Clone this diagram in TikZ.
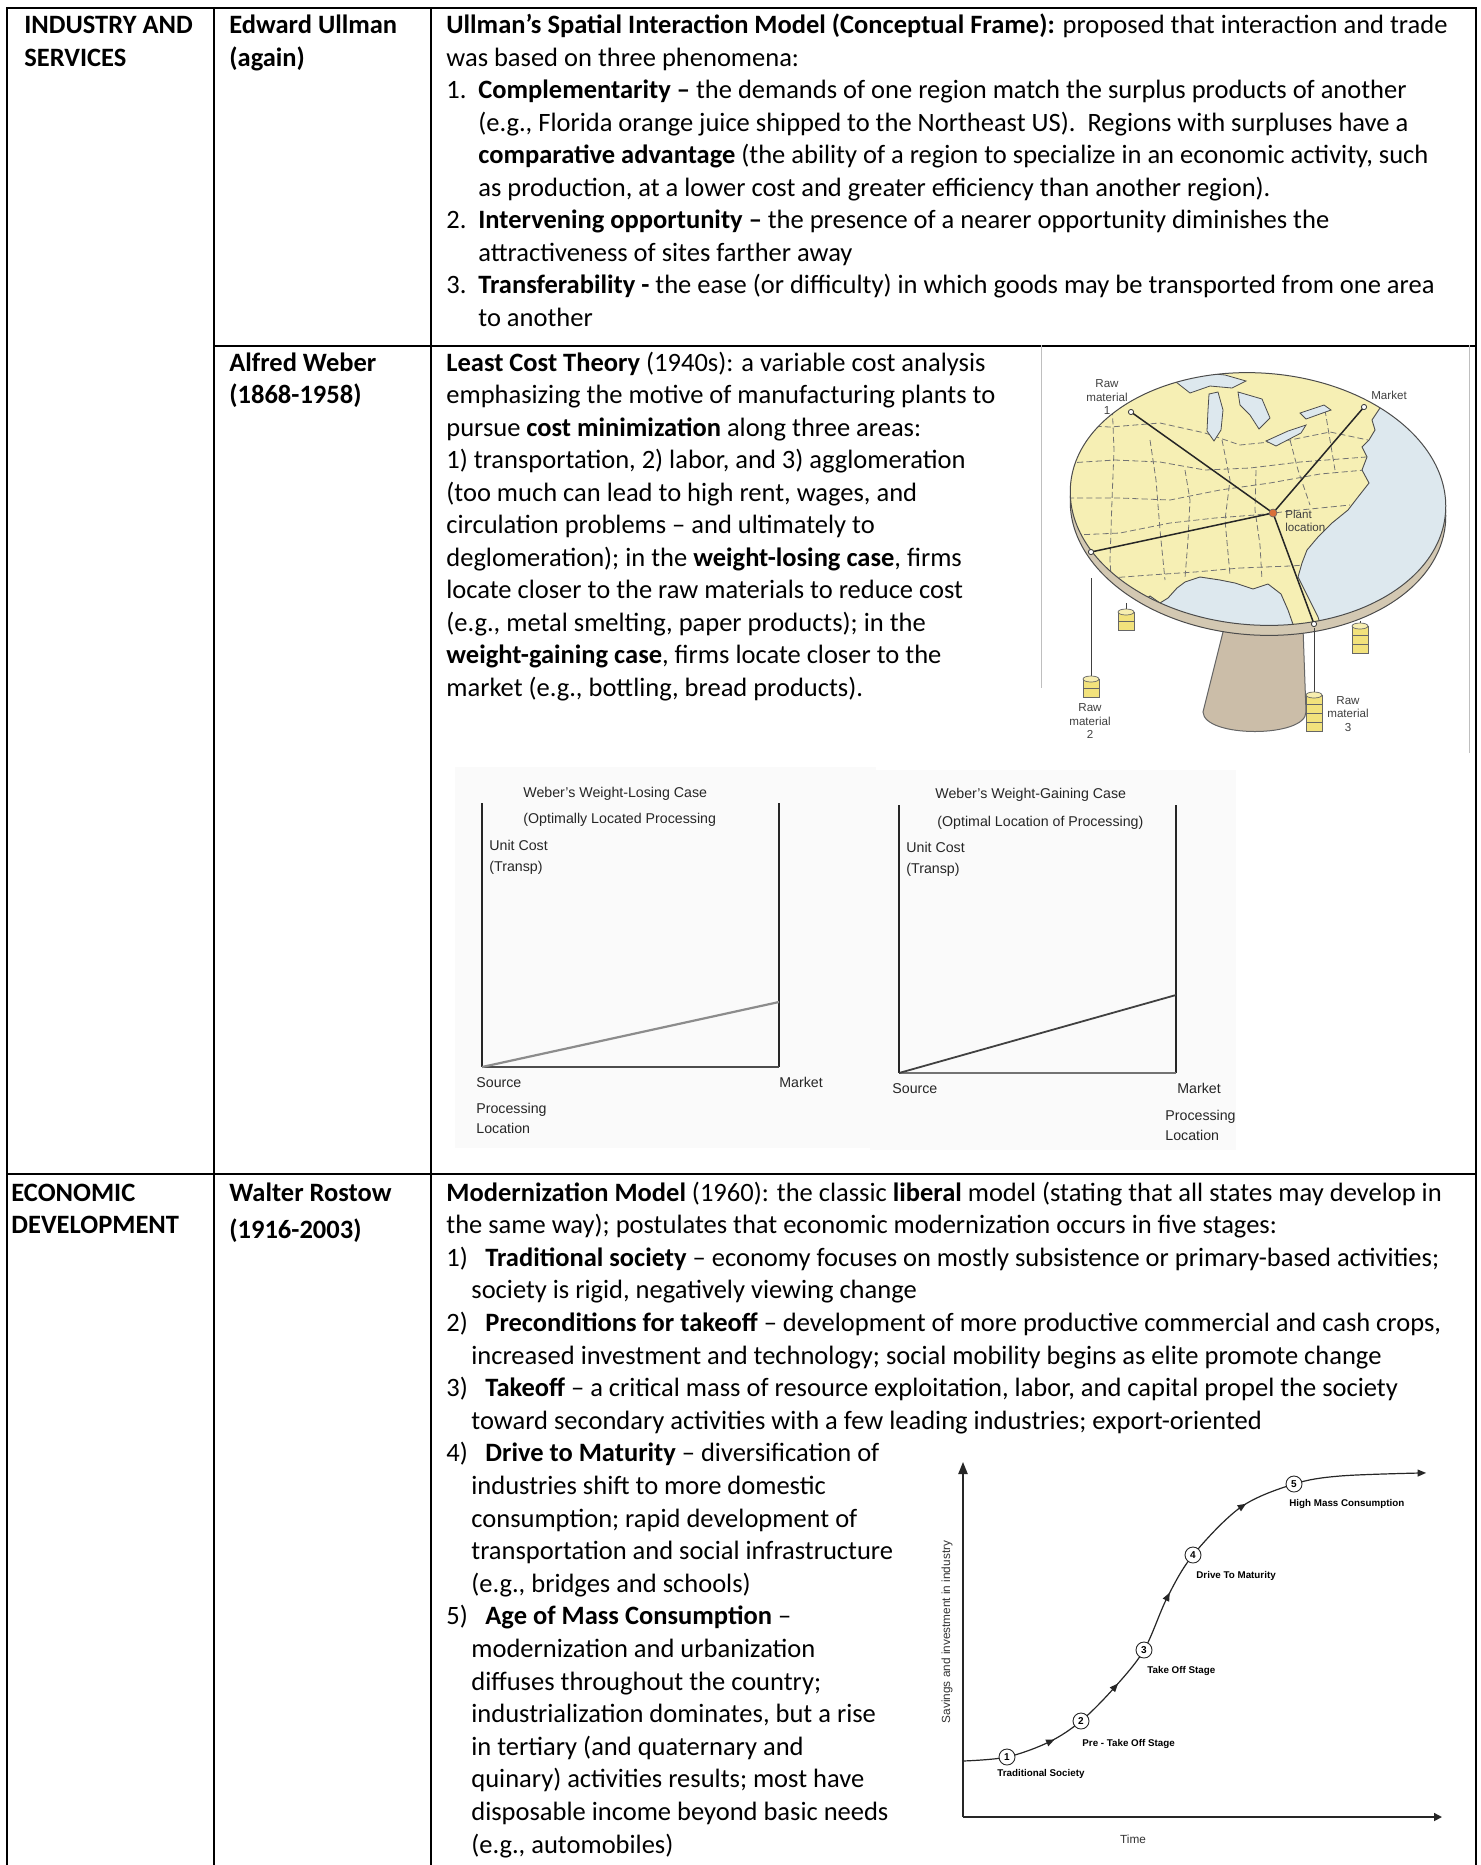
\documentclass[tikz,border=0pt]{standalone}
\usepackage{fontspec}
\setmainfont{Carlito}
\newfontfamily\arialf{Liberation Sans}
\usetikzlibrary{shapes.geometric,arrows.meta}
\definecolor{land}{HTML}{F6EFB4}
\definecolor{sea}{HTML}{DDE8EE}
\definecolor{rimc}{HTML}{D3C8B2}
\definecolor{pedc}{HTML}{CBBDA8}
\definecolor{wtc}{HTML}{F2E27C}
\definecolor{plantc}{HTML}{D9703A}
\newcommand\mainsz{\fontsize{13.25pt}{16.25pt}\selectfont}
\newcommand\Tl[4]{\node[tx] (#1) at (#2,#3) {#4};}
\newcommand\wstack[3]{%
  \foreach \i in {1,...,#3}{\draw[fill=wtc, draw=black!60, line width=0.35pt] ({#1-8},{#2+9*(\i-1)}) rectangle ({#1+8},{#2+9*\i});}
  \draw[fill=wtc!60!white, draw=black!60, line width=0.35pt] (#1,#2) ellipse [x radius=4pt, y radius=1.5pt];}
\begin{document}
\begin{tikzpicture}[x=0.5pt,y=-0.5pt,
  tx/.style={anchor=base west, inner sep=0pt, font=\mainsz},
  grid/.style={line width=1.4pt, line cap=rect},
  gtx/.style={anchor=base west, inner sep=0pt, font=\arialf\fontsize{7.1pt}{8pt}\selectfont, text=black!85},
  rtx/.style={anchor=base west, inner sep=0pt, font=\arialf\bfseries\fontsize{4.9pt}{6pt}\selectfont},
  mtx/.style={inner sep=0pt, font=\arialf\fontsize{5.8pt}{6.6pt}\selectfont, align=center, text=black!75},
  stage/.style={circle, draw=black!85, fill=white, inner sep=0pt, minimum size=8pt, line width=0.45pt, font=\arialf\bfseries\fontsize{5pt}{6pt}\selectfont},
  tri/.style={isosceles triangle, isosceles triangle stretches, fill=black!85, inner sep=0pt, minimum width=3.6pt, minimum height=4.2pt},
  axis/.style={line width=0.8pt, draw=black!85},
  mapline/.style={line width=0.75pt, draw=black!85},
  dot/.style={circle, draw=black!80, fill=white, inner sep=0pt, minimum size=2.6pt, line width=0.4pt},
  statel/.style={dashed, dash pattern=on 3pt off 1.6pt, draw=black!55, line width=0.4pt}]
\useasboundingbox (0,0) rectangle (1481,1865);
\fill[white] (0,0) rectangle (1481,1865);

% ---------------- table grid
\draw[grid] (7,8) -- (1476,8);
\draw[grid] (7,8) -- (7,1865);
\draw[grid] (214,8) -- (214,1865);
\draw[grid] (431,8) -- (431,1865);
\draw[grid] (1476,8) -- (1476,1865);
\draw[grid] (214,346) -- (1476,346);
\draw[grid] (7,1174) -- (1476,1174);

% ---------------- column 1 and 2
\node[tx] (c1a) at (24,33.5) {\textbf{INDUSTRY AND}};
\node[tx] (c1b) at (24,66) {\textbf{SERVICES}};
\node[tx] (c2a) at (229,33.5) {\textbf{Edward Ullman}};
\node[tx] (c2b) at (229,66) {\textbf{(again)}};
\node[tx] (c2c) at (229,371) {\textbf{Alfred Weber}};
\node[tx] (c2d) at (229,403.5) {\textbf{(1868-1958)}};
\node[tx] (c1c) at (11,1201) {\textbf{ECONOMIC}};
\node[tx] (c1d) at (11,1233.6) {\textbf{DEVELOPMENT}};
\node[tx] (c2e) at (229,1201) {\textbf{Walter Rostow}};
\node[tx] (c2f) at (229,1238) {\textbf{(1916-2003)}};

% ---------------- Ullman
\Tl{u1}{446}{33.5}{\textbf{Ullman’s Spatial Interaction Model (Conceptual Frame):} proposed that interaction and trade}
\Tl{u2}{446}{66}{was based on three phenomena:}
\Tl{u3n}{446}{98.5}{1.}
\Tl{u3}{478}{98.5}{\textbf{Complementarity –} the demands of one region match the surplus products of another}
\Tl{u4}{478}{131}{(e.g., Florida orange juice shipped to the Northeast US).\ \ Regions with surpluses have a}
\Tl{u5}{478}{163.5}{\textbf{comparative advantage} (the ability of a region to specialize in an economic activity, such}
\Tl{u6}{478}{196}{as production, at a lower cost and greater efficiency than another region).}
\Tl{u7n}{446}{228.5}{2.}
\Tl{u7}{478}{228.5}{\textbf{Intervening opportunity –} the presence of a nearer opportunity diminishes the}
\Tl{u8}{478}{261}{attractiveness of sites farther away}
\Tl{u9n}{446}{293.5}{3.}
\Tl{u9}{478}{293.5}{\textbf{Transferability -} the ease (or difficulty) in which goods may be transported from one area}
\Tl{u10}{478}{326}{to another}

% ---------------- Weber text
\Tl{w1}{446}{371}{\textbf{Least Cost Theory} (1940s): a variable cost analysis}
\Tl{w2}{446}{403.5}{emphasizing the motive of manufacturing plants to}
\Tl{w3}{446}{436}{pursue \textbf{cost minimization} along three areas:}
\Tl{w4}{446}{468.5}{1) transportation, 2) labor, and 3) agglomeration}
\Tl{w5}{446}{501}{(too much can lead to high rent, wages, and}
\Tl{w6}{446}{533.5}{circulation problems – and ultimately to}
\Tl{w7}{446}{566}{deglomeration); in the \textbf{weight-losing case}, firms}
\Tl{w8}{446}{598.5}{locate closer to the raw materials to reduce cost}
\Tl{w9}{446}{631}{(e.g., metal smelting, paper products); in the}
\Tl{w10}{446}{663.5}{\textbf{weight-gaining case}, firms locate closer to the}
\Tl{w11}{446}{696}{market (e.g., bottling, bread products).}

% ---------------- Weber map (table model)
\draw[black!25, line width=0.5pt] (1041,345) -- (1041,688);
\draw[black!25, line width=0.5pt] (1469,345) -- (1469,753);
% pedestal
\draw[fill=pedc, draw=black!60, line width=0.5pt] (1224,628) -- (1303,628) -- (1306,712) .. controls (1306,738) and (1204,738) .. (1203,712) -- cycle;
% rim
\draw[fill=rimc, draw=black!70, line width=0.5pt, rotate around={-4:(1258,509)}] (1258,509) ellipse [x radius=94pt, y radius=63pt];
% top
\fill[land, rotate around={-4:(1258,499)}] (1258,499) ellipse [x radius=94pt, y radius=63pt];
\begin{scope}
  \clip[rotate around={-4:(1258,499)}] (1258,499) ellipse [x radius=94pt, y radius=63pt];
  % dashed state lines
  \draw[statel] (1068,425) -- (1110,427) -- (1160,423) -- (1205,433) -- (1240,445) -- (1290,440) -- (1330,432) -- (1368,440);
  \draw[statel] (1068,463) -- (1115,460) -- (1160,462) -- (1205,470) -- (1250,468) -- (1300,462) -- (1366,457);
  \draw[statel] (1068,498) -- (1120,498) -- (1170,500) -- (1220,490) -- (1270,483) -- (1320,474) -- (1365,470);
  \draw[statel] (1075,535) -- (1120,533) -- (1170,523) -- (1215,518) -- (1255,515) -- (1300,510) -- (1350,505);
  \draw[statel] (1110,578) -- (1150,575) -- (1195,572) -- (1240,568) -- (1290,566) -- (1305,565);
  \draw[statel] (1112,400) -- (1114,450) -- (1112,500) -- (1110,560) -- (1113,610);
  \draw[statel] (1150,440) -- (1156,480) -- (1160,530) -- (1165,580);
  \draw[statel] (1185,470) -- (1190,500) -- (1188,540) -- (1185,578);
  \draw[statel] (1222,440) -- (1230,480) -- (1225,520) -- (1230,575);
  \draw[statel] (1256,470) -- (1255,510) -- (1260,545) -- (1262,580);
  \draw[statel] (1290,440) -- (1298,470) -- (1310,505);
  \draw[statel] (1325,410) -- (1330,440) -- (1335,470);
  % oceans
  \draw[fill=sea, draw=black!70, line width=0.45pt] (1398,340) -- (1392,395) -- (1380,408) -- (1372,420) -- (1375,430) -- (1369,440) -- (1362,447) -- (1367,457) -- (1362,470) -- (1369,483) -- (1358,497) -- (1348,510) -- (1332,523) -- (1318,537) -- (1307,550) -- (1302,563) -- (1298,577) -- (1308,597) -- (1318,617) -- (1327,645) -- (1470,645) -- (1470,340) -- cycle;
  \draw[fill=sea, draw=black!70, line width=0.45pt] (1298,645) -- (1295,630) -- (1288,610) -- (1281,594) -- (1268,584) -- (1253,589) -- (1235,583) -- (1220,580) -- (1200,577) -- (1185,582) -- (1177,588) -- (1168,598) -- (1160,603) -- (1150,596) -- (1140,604) -- (1128,611) -- (1118,645) -- cycle;
  % great lakes
  \draw[fill=sea, draw=black!70, line width=0.4pt] (1176,382) -- (1195,372) -- (1225,375) -- (1246,381) -- (1232,388) -- (1210,386) -- (1190,393) -- cycle;
  \draw[fill=sea, draw=black!70, line width=0.4pt] (1209,394) -- (1218,392) -- (1223,410) -- (1221,430) -- (1214,441) -- (1207,431) -- (1208,410) -- cycle;
  \draw[fill=sea, draw=black!70, line width=0.4pt] (1238,392) -- (1262,399) -- (1270,418) -- (1259,429) -- (1250,415) -- (1240,405) -- cycle;
  \draw[fill=sea, draw=black!70, line width=0.4pt] (1266,441) -- (1288,431) -- (1306,425) -- (1301,433) -- (1276,446) -- cycle;
  \draw[fill=sea, draw=black!70, line width=0.4pt] (1300,413) -- (1324,405) -- (1331,410) -- (1306,419) -- cycle;
\end{scope}
\draw[draw=black!70, line width=0.5pt, rotate around={-4:(1258,499)}] (1258,499) ellipse [x radius=94pt, y radius=63pt];
% strings and weights
\draw[black!75, line width=0.5pt] (1091,578) -- (1091,679);
\draw[black!75, line width=0.5pt] (1314,628) -- (1314,695);
\draw[black!75, line width=0.5pt] (1126,603) -- (1126,612);
\draw[black!75, line width=0.5pt] (1360,621) -- (1360,626);
\wstack{1091}{679}{2}
\wstack{1314}{695}{4}
\wstack{1126}{612}{2}
\wstack{1360}{626}{3}
% connectors to plant
\coordinate (rm1) at (1131,412);
\coordinate (mk) at (1364,407);
\coordinate (plant) at (1273,513);
\coordinate (rm2) at (1091,552);
\coordinate (rm3) at (1314,624);
\draw[mapline] (rm1) -- (plant);
\draw[mapline] (mk) -- (plant);
\draw[mapline] (rm2) -- (plant);
\draw[mapline] (rm3) -- (plant);
\node[dot] (drm1) at (rm1) {};
\node[dot] (dmk) at (mk) {};
\node[dot] (drm2) at (rm2) {};
\node[dot] (drm3) at (rm3) {};
\node[circle, fill=plantc, draw=black!60, inner sep=0pt, minimum size=4pt, line width=0.3pt] (dpl) at (plant) {};
\node[mtx] (lrm1) at (1107,397) {Raw\\material\\1};
\node[mtx] (lmk) at (1389,395) {Market};
\node[mtx, anchor=west, align=left] (lpl) at (1285,521) {Plant\\location};
\node[mtx] (lrm2) at (1090,721) {Raw\\material\\2};
\node[mtx] (lrm3) at (1348,714) {Raw\\material\\3};

% ---------------- Weber graphs
\fill[black!2] (455,767) rectangle (876,1148);
\fill[black!2] (870,770) rectangle (1236,1150);
\draw[axis, line width=0.7pt] (482,803) -- (482,1067);
\draw[axis, line width=0.7pt] (779,803) -- (779,1067);
\draw[draw=black!70, line width=1.1pt] (482,1067) -- (779,1067);
\draw[draw=black!45, line width=1.1pt] (482,1067) -- (779,1002);
\node[gtx] (g1a) at (523,797) {Weber’s Weight-Losing Case};
\node[gtx] (g1b) at (523,823) {(Optimally Located Processing};
\node[gtx] (g1c) at (489,850) {Unit Cost};
\node[gtx] (g1d) at (489,871) {(Transp)};
\node[gtx] (g1e) at (476,1087) {Source};
\node[gtx] (g1f) at (779,1087) {Market};
\node[gtx] (g1g) at (476,1113) {Processing};
\node[gtx] (g1h) at (476,1133) {Location};
\draw[axis, line width=0.7pt] (899,805) -- (899,1073);
\draw[axis, line width=0.7pt] (1176,805) -- (1176,1073);
\draw[draw=black!55, line width=1.1pt] (899,1073) -- (1176,1073);
\draw[draw=black!75, line width=0.9pt] (899,1073) -- (1176,995);
\node[gtx] (g2a) at (935,798) {Weber’s Weight-Gaining Case};
\node[gtx] (g2b) at (937,826) {(Optimal Location of Processing)};
\node[gtx] (g2c) at (906,852) {Unit Cost};
\node[gtx] (g2d) at (906,873) {(Transp)};
\node[gtx] (g2e) at (892,1093) {Source};
\node[gtx] (g2f) at (1177,1093) {Market};
\node[gtx] (g2g) at (1165,1120) {Processing};
\node[gtx] (g2h) at (1165,1140) {Location};

% ---------------- Rostow text
\Tl{r1}{446}{1201}{\textbf{Modernization Model} (1960): the classic \textbf{liberal} model (stating that all states may develop in}
\Tl{r2}{446}{1233.6}{the same way); postulates that economic modernization occurs in five stages:}
\Tl{r3n}{446}{1266.2}{1)}
\Tl{r3}{485}{1266.2}{\textbf{Traditional society} – economy focuses on mostly subsistence or primary-based activities;}
\Tl{r4}{471}{1298.8}{society is rigid, negatively viewing change}
\Tl{r5n}{446}{1331.4}{2)}
\Tl{r5}{485}{1331.4}{\textbf{Preconditions for takeoff} – development of more productive commercial and cash crops,}
\Tl{r6}{471}{1364}{increased investment and technology; social mobility begins as elite promote change}
\Tl{r7n}{446}{1396.6}{3)}
\Tl{r7}{485}{1396.6}{\textbf{Takeoff} – a critical mass of resource exploitation, labor, and capital propel the society}
\Tl{r8}{471}{1429.2}{toward secondary activities with a few leading industries; export-oriented}
\Tl{r9n}{446}{1461.8}{4)}
\Tl{r9}{485}{1461.8}{\textbf{Drive to Maturity} – diversification of}
\Tl{r10}{471}{1494.4}{industries shift to more domestic}
\Tl{r11}{471}{1527}{consumption; rapid development of}
\Tl{r12}{471}{1559.6}{transportation and social infrastructure}
\Tl{r13}{471}{1592.2}{(e.g., bridges and schools)}
\Tl{r14n}{446}{1624.8}{5)}
\Tl{r14}{485}{1624.8}{\textbf{Age of Mass Consumption} –}
\Tl{r15}{471}{1657.4}{modernization and urbanization}
\Tl{r16}{471}{1690}{diffuses throughout the country;}
\Tl{r17}{471}{1722.6}{industrialization dominates, but a rise}
\Tl{r18}{471}{1755.2}{in tertiary (and quaternary and}
\Tl{r19}{471}{1787.8}{quinary) activities results; most have}
\Tl{r20}{471}{1820.4}{disposable income beyond basic needs}
\Tl{r21}{471}{1853}{(e.g., automobiles)}

% ---------------- Rostow graph
\coordinate (org) at (963,1817);
\coordinate (ytop) at (963,1462);
\coordinate (xend) at (1442,1817);
\draw[axis, -{Triangle[length=6pt,width=4.6pt]}] (org) -- (ytop);
\draw[axis, -{Triangle[length=4pt,width=4pt]}] (org) -- (xend);
\coordinate (s0) at (963,1761);
\coordinate (s1) at (1007,1757);
\coordinate (a1) at (1049,1742);
\coordinate (s2) at (1081,1721);
\coordinate (a2) at (1114,1688);
\coordinate (s3) at (1144,1650);
\coordinate (a3) at (1167,1598);
\coordinate (s4) at (1193,1555);
\coordinate (a4) at (1241,1507);
\coordinate (s5) at (1294,1484);
\coordinate (s6) at (1340,1476);
\coordinate (send) at (1420,1473);
\draw[black!85, line width=0.6pt] plot[smooth, tension=0.55] coordinates {(s0) (s1) (a1) (s2) (a2) (s3) (a3) (s4) (a4) (s5) (s6) (send)};
\node[tri, rotate=24] (t1) at (a1) {};
\node[tri, rotate=48] (t2) at (a2) {};
\node[tri, rotate=63] (t3) at (a3) {};
\node[tri, rotate=33] (t4) at (a4) {};
\node[tri, rotate=1] (t5) at (send) {};
\node[stage] (n1) at (s1) {1};
\node[stage] (n2) at (s2) {2};
\node[stage] (n3) at (s3) {3};
\node[stage] (n4) at (s4) {4};
\node[stage] (n5) at (s5) {5};
\node[rtx] (l1) at (997,1776) {Traditional Society};
\node[rtx] (l2) at (1082,1746) {Pre - Take Off Stage};
\node[rtx] (l3) at (1147,1673) {Take Off Stage};
\node[rtx] (l4) at (1196,1578) {Drive To Maturity};
\node[rtx] (l5) at (1289,1506) {High Mass Consumption};
\node[inner sep=0pt, font=\arialf\fontsize{5.9pt}{7pt}\selectfont, text=black!80] (tm) at (1133,1839) {Time};
\node[inner sep=0pt, rotate=90, font=\arialf\fontsize{5.9pt}{7pt}\selectfont, text=black!80] (yl) at (947,1632) {Savings and investment in industry};
\end{tikzpicture}
\end{document}
